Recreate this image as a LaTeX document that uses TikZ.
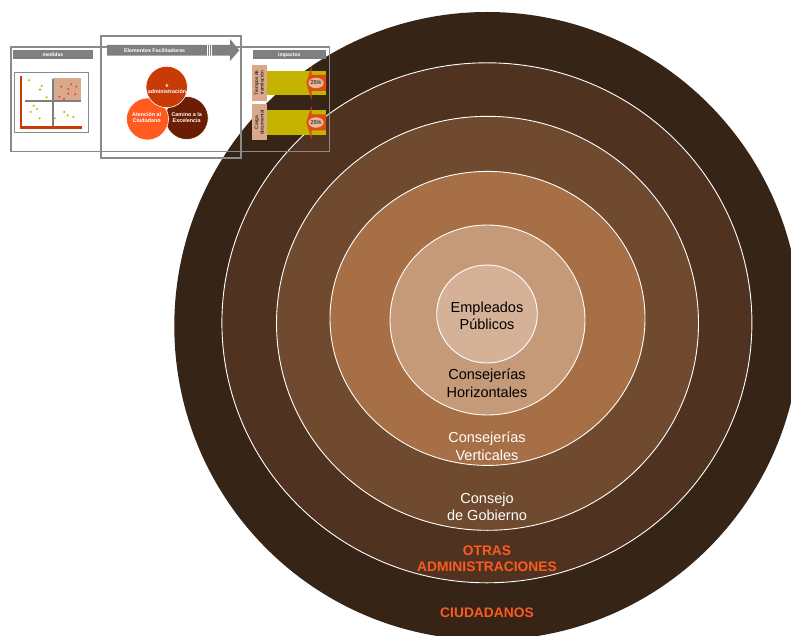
\documentclass[tikz,border=0pt]{standalone}
\usepackage{fontspec}
\setmainfont{Liberation Sans}
\usetikzlibrary{shapes.geometric}

\definecolor{ringA}{HTML}{362417}
\definecolor{ringB}{HTML}{4F3220}
\definecolor{ringC}{HTML}{6F4A2E}
\definecolor{ringD}{HTML}{A66F45}
\definecolor{ringE}{HTML}{C59A78}
\definecolor{ringF}{HTML}{D5B297}
\definecolor{hot}{HTML}{FF5A1F}
\definecolor{framegray}{HTML}{8A8A8A}
\definecolor{headgray}{HTML}{7F7F7F}
\definecolor{sand}{HTML}{D8A98B}
\definecolor{olive}{HTML}{C4B400}
\definecolor{rust}{HTML}{C83A06}
\definecolor{darkrust}{HTML}{6C1E04}
\definecolor{dotyellow}{HTML}{C8B400}
\definecolor{dotred}{HTML}{F03A3A}
\definecolor{impactred}{HTML}{E04A10}
\definecolor{badge}{HTML}{E8B898}

\begin{document}
\begin{tikzpicture}[x=1pt, y=-1pt,
  ring/.style={draw=white, line width=0.9pt},
  ringlabel/.style={align=center, font=\fontsize{14.5}{17.5}\selectfont},
  outerlabel/.style={align=center, text=hot, font=\fontsize{13.8}{16.5}\selectfont\bfseries},
  headbar/.style={fill=headgray, text=white, inner sep=0pt, anchor=north west,
    font=\fontsize{5.1}{6}\selectfont\bfseries},
  frameline/.style={draw=framegray, line width=1.6pt},
  blob/.style={draw=white, line width=0.6pt},
  blobtext/.style={align=center, text=white, inner sep=0pt,
    font=\fontsize{5.4}{6}\selectfont\bfseries},
  sidetag/.style={fill=sand, minimum width=36pt, minimum height=15pt, inner sep=0pt,
    anchor=center, align=center, font=\fontsize{4.8}{5.4}\selectfont},
  pctbadge/.style={ellipse, fill=badge, draw=impactred, line width=0.4pt, inner sep=0pt,
    minimum width=16pt, minimum height=11pt, font=\fontsize{5.5}{6}\selectfont}
]
\useasboundingbox (0,0) rectangle (791,636);
\clip (0,0) rectangle (791,636);

% rings, from outside in
\fill[ringA] (487.3,326) ellipse [x radius=313pt, y radius=314pt];
\filldraw[ring, fill=ringB] (486.9,322.8) ellipse [x radius=265pt, y radius=260pt];
\filldraw[ring, fill=ringC] (487.5,323.3) ellipse [x radius=211pt, y radius=207pt];
\filldraw[ring, fill=ringD] (487.5,318.4) ellipse [x radius=157.5pt, y radius=147pt];
\filldraw[ring, fill=ringE] (487.5,320) ellipse [x radius=97.5pt, y radius=95pt];
\filldraw[ring, fill=ringF] (487,314) ellipse [x radius=50.3pt, y radius=49pt];

\node[ringlabel] (empleados) at (487,316) {Empleados\\Públicos};
\node[ringlabel] (horizontales) at (487,383) {Consejerías\\Horizontales};
\node[ringlabel, text=white] (verticales) at (487,446) {Consejerías\\Verticales};
\node[ringlabel, text=white] (gobierno) at (487,507) {Consejo\\de Gobierno};
\node[outerlabel] (otras) at (487,558.5) {OTRAS\\ADMINISTRACIONES};
\node[outerlabel] (ciudadanos) at (487,612.5) {CIUDADANOS};

% thumbnail: frames
\draw[frameline] (10.7,47.3) rectangle (329.3,151.7);
\draw[frameline, line width=1.8pt] (100.7,36) rectangle (240.7,157.7);

% medidas
\node[headbar, minimum width=80pt, minimum height=8.7pt] (medhead) at (12.7,50) {medidas};
\draw[frameline, line width=1.5pt] (14.7,72.7) rectangle (88.7,132.3);
\fill[sand] (53.3,77.7) rectangle (81,100);
\draw[draw=headgray, line width=1.6pt] (52.7,79) -- (52.7,126);
\draw[draw=headgray, line width=1.6pt] (25.3,100.8) -- (81,100.8);
\draw[draw=rust, line width=2.3pt] (21.2,75.7) -- (21.2,127.4) -- (82,127.4);
\foreach \px/\py in {29/80.3, 41.7/86, 40/89.7, 46.7/97.3, 33.7/105.7, 37/109,
    30.7/112, 39.7/118.3, 54.7/118.3, 64.3/112, 67.7/115.3, 73.3/117}
  \fill[dotyellow] (\px,\py) circle [radius=1.2pt];
\foreach \px/\py in {61.3/86.7, 71/84.3, 76.3/86.7, 68.3/89, 68.3/93.7,
    75.3/94.3, 59.3/96.7, 64/99}
  \fill[dotred] (\px,\py) circle [radius=1.1pt];

% Elementos Facilitadores
\fill[headgray] (107,45) -- (230,45) -- (230,39) -- (239.3,50.3) -- (230,61)
  -- (230,55.7) -- (107,55.7) -- cycle;
\foreach \bx in {207,209,211}
  \draw[white, line width=0.6pt] (\bx,45) -- (\bx,55.7);
\node[blobtext, anchor=west, font=\fontsize{5.3}{6}\selectfont\bfseries] (elemhead) at (124,50.3)
  {Elementos Facilitadores};
\filldraw[blob, fill=darkrust] (186.7,118) circle [radius=21.5pt];
\filldraw[blob, fill=hot] (147.5,119) circle [radius=21pt];
\filldraw[blob, fill=rust] (166.7,87) circle [radius=20.7pt];
\node[blobtext] (eadmin) at (167,89) {e\\administración};
\node[blobtext] (atencion) at (146.7,118) {Atención al\\Ciudadano};
\node[blobtext] (camino) at (186.7,118) {Camino a la\\Excelencia};

% impactos
\node[headbar, minimum width=73.7pt, minimum height=9.3pt] (imphead) at (252.3,50) {impactos};
\foreach \cy/\tag/\nm in {83/{Tiempos de\\tramitación}/1, 122.5/{Carga\\documental}/2} {
  \node[sidetag, rotate=90] (tag\nm) at (259.2,\cy) {\tag};
  \fill[olive] (266.7,\cy-12.3) rectangle (326,\cy+12.3);
  \fill[impactred] (306.3,\cy) -- (311.5,\cy-16.5) -- (311.5,\cy-8) -- (326,\cy-8)
    -- (326,\cy+8) -- (311.5,\cy+8) -- (311.5,\cy+16.5) -- cycle;
  \node[pctbadge] (pct\nm) at (316,\cy) {25\%};
}
\end{tikzpicture}
\end{document}
